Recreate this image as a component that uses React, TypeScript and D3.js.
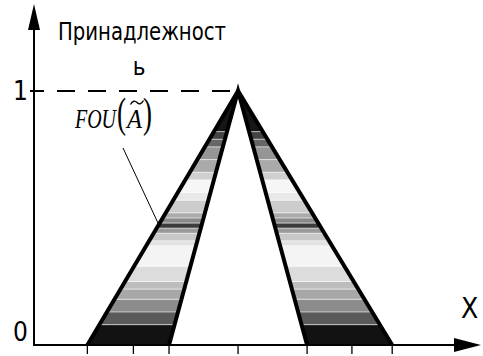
import React from "react";
import * as d3 from "d3";

// Universe positions (peak at 0): outer/inner feet of the footprint of uncertainty
const xTicks = [-6.55, -4.55, -3.0, 0, 3.0, 4.95, 6.7];
const peakX = 0;
const leftOuter = -6.55;
const leftInner = -3.0;
const rightInner = 3.0;
const rightOuter = 6.7;

// Membership bands shading the FOU: lower bound, upper bound, gray level
const bandLow = [0, 0.08, 0.13, 0.18, 0.22, 0.25, 0.31, 0.39, 0.41, 0.44, 0.46, 0.48, 0.5, 0.52, 0.57, 0.6, 0.65, 0.68, 0.73, 0.78, 0.81, 0.84];
const bandHigh = [0.08, 0.13, 0.18, 0.22, 0.25, 0.31, 0.39, 0.41, 0.44, 0.46, 0.48, 0.5, 0.52, 0.57, 0.6, 0.65, 0.68, 0.73, 0.78, 0.81, 0.84, 1.0];
const bandGray = ["#121212", "#5a5a5a", "#8c8c8c", "#a8a8a8", "#bdbdbd", "#dcdcdc", "#f4f4f4", "#e2e2e2", "#c8c8c8", "#9a9a9a", "#3c3c3c", "#8a8a8a", "#aaaaaa", "#cccccc", "#e8e8e8", "#f6f6f6", "#cfcfcf", "#aaaaaa", "#959595", "#666666", "#444444", "#161616"];

const yLabels = ["0", "1"];

const W = 483;
const H = 356;

export default function App() {
  const x = d3.scaleLinear().domain([-8.87, 10.43]).range([34, 478]);
  const y = d3.scaleLinear().domain([0, 1]).range([345, 91]);

  const line = d3.line<[number, number]>().x((d) => x(d[0])).y((d) => y(d[1]));

  const leftPoly: [number, number][] = [[leftOuter, 0], [peakX, 1], [leftInner, 0]];
  const rightPoly: [number, number][] = [[rightInner, 0], [peakX, 1], [rightOuter, 0]];

  const bands = bandLow.map((lo, i) => ({ lo, hi: bandHigh[i], fill: bandGray[i] }));

  const axisY = y(0);
  const axisX = x(-8.87);

  return (
    <svg width={W} height={H} style={{ position: "absolute", left: 0, top: 0, background: "#fff" }}>
      <defs>
        <clipPath id="fouLeft">
          <path d={line(leftPoly) + "Z"} />
        </clipPath>
        <clipPath id="fouRight">
          <path d={line(rightPoly) + "Z"} />
        </clipPath>
      </defs>

      {(["fouLeft", "fouRight"] as const).map((id) => (
        <g key={id} clipPath={`url(#${id})`}>
          {bands.map((b, i) => (
            <rect key={i} x={x(-8)} width={x(9) - x(-8)} y={y(b.hi)} height={y(b.lo) - y(b.hi)} fill={b.fill} />
          ))}
          {bands.slice(1).map((b, i) => (
            <line key={"s" + i} x1={x(-8)} x2={x(9)} y1={y(b.lo)} y2={y(b.lo)} stroke="#fff" strokeOpacity={0.6} strokeWidth={1} />
          ))}
        </g>
      ))}

      {/* Dashed guide at membership 1 */}
      <line x1={axisX - 4} x2={axisX + 10} y1={y(1)} y2={y(1)} stroke="#000" strokeWidth={2} />
      <line x1={axisX + 23} x2={x(peakX)} y1={y(1)} y2={y(1)} stroke="#000" strokeWidth={2} strokeDasharray="18 13" />

      {/* FOU boundaries */}
      <path d={line([[leftOuter, 0], [peakX, 1], [rightOuter, 0]]) || ""} fill="none" stroke="#000" strokeWidth={4} strokeLinejoin="miter" />
      <path d={line([[leftInner, 0], [peakX, 1], [rightInner, 0]]) || ""} fill="none" stroke="#000" strokeWidth={4} strokeLinejoin="miter" />

      {/* Axes */}
      <line x1={axisX} x2={axisX} y1={axisY + 1} y2={26} stroke="#000" strokeWidth={2} />
      <path d={`M${axisX},4 L${axisX - 6},30 L${axisX + 6},30 Z`} fill="#000" />
      <line x1={axisX - 1} x2={458} y1={axisY} y2={axisY} stroke="#000" strokeWidth={2} />
      <path d={`M481,${axisY} L454,${axisY - 7} L454,${axisY + 7} Z`} fill="#000" />

      {xTicks.map((t, i) => (
        <line key={i} x1={x(t)} x2={x(t)} y1={axisY} y2={axisY + 9} stroke="#000" strokeWidth={1.3} />
      ))}

      {/* Labels */}
      <g fontFamily="'Liberation Sans Narrow', 'Arial Narrow', 'DejaVu Sans Condensed', sans-serif" fill="#000">
        <text x={58} y={40} fontSize={24} textLength={168} lengthAdjust="spacingAndGlyphs">Принадлежност</text>
        <text x={139} y={75} fontSize={24} textAnchor="middle">ь</text>
        <text x={13} y={y(1) + 9} fontSize={26}>{yLabels[1]}</text>
        <text x={13} y={341} fontSize={26}>{yLabels[0]}</text>
        <text x={461} y={318} fontSize={28}>X</text>
      </g>

      {/* FOU(Ã) annotation */}
      <text fontFamily="'Liberation Serif', 'Times New Roman', serif" fill="#000" y={128}>
        <tspan x={75} fontSize={28} fontStyle="italic" textLength={41} lengthAdjust="spacingAndGlyphs">FOU</tspan>
        <tspan x={117} fontSize={42} dy={-1} textLength={9} lengthAdjust="spacingAndGlyphs">(</tspan>
        <tspan x={127} fontSize={27} dy={1} fontStyle="italic" textLength={15} lengthAdjust="spacingAndGlyphs">A</tspan>
        <tspan x={143} fontSize={42} dy={-1} textLength={9} lengthAdjust="spacingAndGlyphs">)</tspan>
      </text>
      <path d="M130.5,104.5 C132.5,100.5 135,100.5 137,102.5 C139,104.5 141.5,104.5 143.5,100.5" fill="none" stroke="#000" strokeWidth={1.3} />

      {/* Leader from the annotation to the band */}
      <line x1={123} y1={148} x2={158} y2={223} stroke="#000" strokeWidth={1} />
    </svg>
  );
}
